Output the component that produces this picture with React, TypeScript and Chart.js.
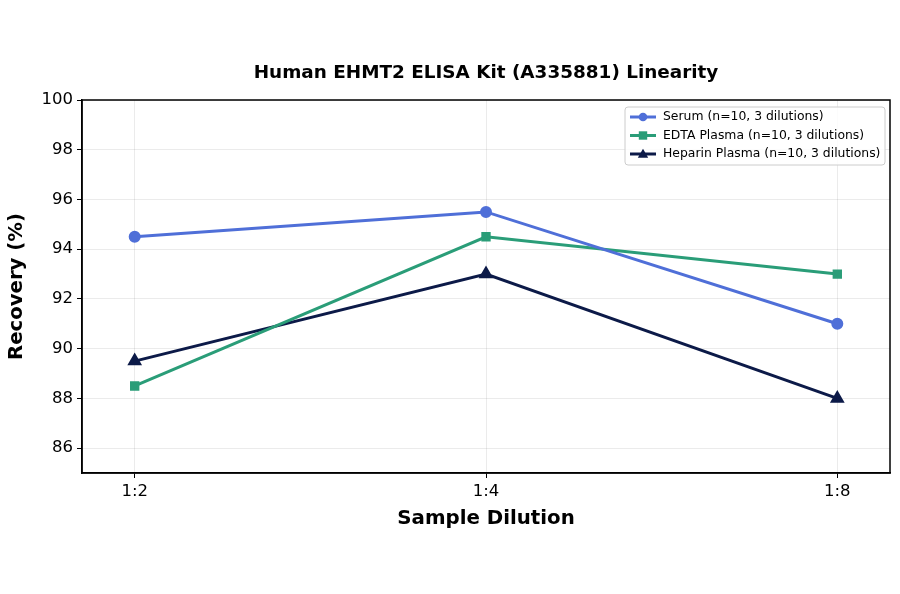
import React, { useEffect, useRef } from 'react';
import Chart from 'chart.js/auto';

const chartTitle = 'Human EHMT2 ELISA Kit (A335881) Linearity';
const dilutions = ['1:2', '1:4', '1:8'];
const serum = [94.5, 95.5, 91.0];
const edtaPlasma = [88.5, 94.5, 93.0];
const heparinPlasma = [89.5, 93.0, 88.0];
const seriesLabels = [
  'Serum (n=10, 3 dilutions)',
  'EDTA Plasma (n=10, 3 dilutions)',
  'Heparin Plasma (n=10, 3 dilutions)'
];
const yTicks = [86, 88, 90, 92, 94, 96, 98, 100];

const FONT = "'DejaVu Sans', sans-serif";

const toPoints = (vals: number[]) => vals.map((v, i) => ({ x: i, y: v }));

// çerçeve, başlık (çizim alanına ortalı) + grafik içi lejant
const framePlugin = {
  id: 'frame',
  afterDraw(chart: any) {
    const { ctx, chartArea } = chart;
    ctx.save();
    ctx.strokeStyle = '#000';
    ctx.lineWidth = 1.5;
    ctx.strokeRect(chartArea.left, chartArea.top, chartArea.right - chartArea.left, chartArea.bottom - chartArea.top);

    ctx.fillStyle = '#000';
    ctx.font = `bold 18.4px ${FONT}`;
    ctx.textAlign = 'center';
    ctx.textBaseline = 'middle';
    ctx.fillText(chartTitle, (chartArea.left + chartArea.right) / 2, 73);

    // lejant
    const bx = 625, by = 107, bw = 260, bh = 58;
    ctx.fillStyle = 'rgba(255,255,255,0.85)';
    ctx.strokeStyle = '#cccccc';
    ctx.lineWidth = 1;
    ctx.beginPath();
    ctx.roundRect(bx, by, bw, bh, 3);
    ctx.fill();
    ctx.stroke();

    ctx.font = `12.4px ${FONT}`;
    ctx.textAlign = 'left';
    chart.data.datasets.forEach((ds: any, i: number) => {
      const y = by + 10 + i * 18.5;
      ctx.strokeStyle = ds.borderColor;
      ctx.lineWidth = 3;
      ctx.beginPath();
      ctx.moveTo(630, y);
      ctx.lineTo(656, y);
      ctx.stroke();
      ctx.fillStyle = ds.borderColor;
      ctx.beginPath();
      if (ds.pointStyle === 'circle') {
        ctx.arc(643, y, 4.3, 0, Math.PI * 2);
      } else if (ds.pointStyle === 'rect') {
        ctx.rect(638.8, y - 4.2, 8.4, 8.4);
      } else {
        ctx.moveTo(643, y - 5.2);
        ctx.lineTo(648.2, y + 3.8);
        ctx.lineTo(637.8, y + 3.8);
        ctx.closePath();
      }
      ctx.fill();
      ctx.fillStyle = '#000';
      ctx.fillText(ds.label, 663, y);
    });
    ctx.restore();
  }
};

const App: React.FC = () => {
  const chartRef = useRef<HTMLCanvasElement>(null);

  useEffect(() => {
    if (!chartRef.current) return;
    const colors = ['#4f6fd8', '#2a9d78', '#0c1a48'];
    const chart = new Chart(chartRef.current, {
      type: 'line',
      data: {
        datasets: [
          {
            label: seriesLabels[0],
            data: toPoints(serum),
            borderColor: colors[0],
            backgroundColor: colors[0],
            pointStyle: 'circle',
            pointRadius: 4.5,
            borderWidth: 3
          },
          {
            label: seriesLabels[1],
            data: toPoints(edtaPlasma),
            borderColor: colors[1],
            backgroundColor: colors[1],
            pointStyle: 'rect',
            pointRadius: 4.5,
            borderWidth: 3
          },
          {
            label: seriesLabels[2],
            data: toPoints(heparinPlasma),
            borderColor: colors[2],
            backgroundColor: colors[2],
            pointStyle: 'triangle',
            pointRadius: 5.5,
            borderWidth: 3
          }
        ]
      },
      options: {
        animation: false,
        responsive: false,
        layout: { padding: { top: 100, right: 10, bottom: 59, left: 0 } },
        plugins: {
          legend: { display: false },
          tooltip: { enabled: false },
          title: { display: false }
        },
        scales: {
          x: {
            type: 'linear',
            min: -0.15,
            max: 2.15,
            afterBuildTicks: (scale: any) => {
              scale.ticks = dilutions.map((_, i) => ({ value: i }));
            },
            afterFit: (scale: any) => {
              scale.height = 62;
            },
            ticks: {
              callback: (v: any) => dilutions[v] ?? '',
              color: '#000',
              font: { family: FONT, size: 16.5 },
              padding: 4,
              maxRotation: 0
            },
            grid: { color: 'rgba(0,0,0,0.08)', tickLength: 5, tickColor: '#000' },
            border: { color: '#000', width: 1.5 },
            title: {
              display: true,
              text: 'Sample Dilution',
              color: '#000',
              font: { family: FONT, size: 19.8, weight: 'bold' },
              padding: { top: 4, bottom: 4 }
            }
          },
          y: {
            min: 85,
            max: 100,
            afterBuildTicks: (scale: any) => {
              scale.ticks = yTicks.map((v) => ({ value: v }));
            },
            afterFit: (scale: any) => {
              scale.width = 82;
            },
            ticks: {
              color: '#000',
              font: { family: FONT, size: 16.5 },
              padding: 4
            },
            grid: { color: 'rgba(0,0,0,0.08)', tickLength: 5, tickColor: '#000' },
            border: { color: '#000', width: 1.5 },
            title: {
              display: true,
              text: 'Recovery (%)',
              color: '#000',
              font: { family: FONT, size: 19.7, weight: 'bold' },
              padding: { top: 5, bottom: 4 }
            }
          }
        }
      },
      plugins: [framePlugin]
    });
    return () => chart.destroy();
  }, []);

  return (
    <div style={{ position: 'absolute', left: 0, top: 0, width: 900, height: 594, background: '#fff' }}>
      <canvas ref={chartRef} width={900} height={594} style={{ width: 900, height: 594 }} />
    </div>
  );
};

export default App;
